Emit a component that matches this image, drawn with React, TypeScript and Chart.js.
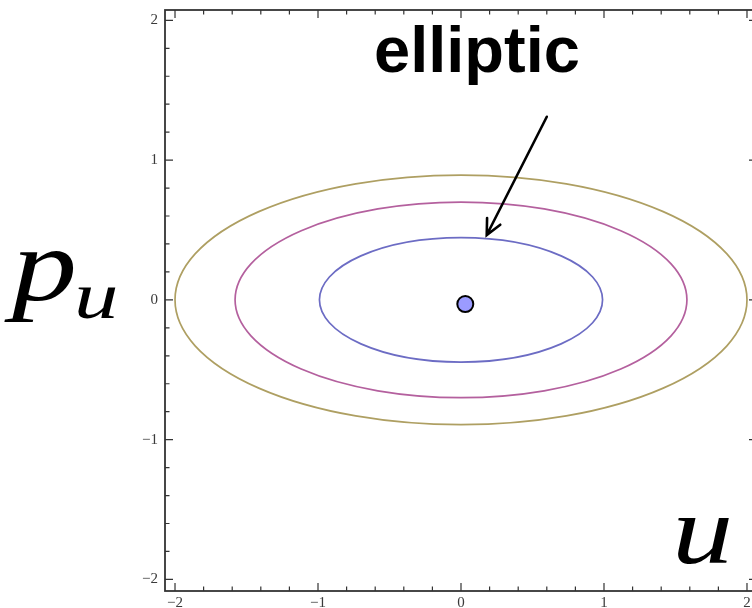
import { useEffect, useRef } from "react";
import { Chart, registerables } from "chart.js";

Chart.register(...registerables);

// Axis ticks (both axes share the same range)
const uTickValues = [-2, -1, 0, 1, 2];
const uTickLabels = ["−2", "−1", "0", "1", "2"];
const pTickValues = [-2, -1, 0, 1, 2];
const pTickLabels = ["−2", "−1", "0", "1", "2"];
const minorTicksPerUnit = 5;

// Closed orbits around the fixed point: semi-axes along u and p_u
const orbitSemiAxisU = [0.99, 1.58, 2.0];
const orbitSemiAxisP = [0.445, 0.7, 0.893];
const orbitColors = ["#6c6cc4", "#b4609e", "#ae9f62"];

// Elliptic fixed point
const fixedPointU = [0.03];
const fixedPointP = [-0.03];

const U_MIN = -2.07;
const U_MAX = 2.07;
const P_MIN = -2.083;
const P_MAX = 2.074;

// italic math glyph, widened to a rounder Computer-Modern-like shape
function mathGlyph(ctx: CanvasRenderingContext2D, text: string, size: number, x: number, y: number, stretch: number) {
  ctx.save();
  ctx.translate(x, y);
  ctx.scale(stretch, 1);
  ctx.font = `italic ${size}px "Liberation Serif"`;
  ctx.fillText(text, 0, 0);
  ctx.restore();
}

const phasePlanePlugin = {
  id: "phasePlane",
  beforeDatasetsDraw(chart: any) {
    const { ctx, chartArea: a, scales } = chart;
    const xs = scales.x;
    const ys = scales.y;
    ctx.save();
    ctx.beginPath();
    ctx.rect(a.left, a.top, a.right - a.left, a.bottom - a.top);
    ctx.clip();
    const cx = xs.getPixelForValue(0);
    const cy = ys.getPixelForValue(0);
    orbitSemiAxisU.forEach((au, i) => {
      const rx = Math.abs(xs.getPixelForValue(au) - cx);
      const ry = Math.abs(ys.getPixelForValue(orbitSemiAxisP[i]) - cy);
      ctx.beginPath();
      ctx.ellipse(cx, cy, rx, ry, 0, 0, Math.PI * 2);
      ctx.strokeStyle = orbitColors[i];
      ctx.lineWidth = 1.7;
      ctx.stroke();
    });
    ctx.restore();
  },
  afterDraw(chart: any) {
    const { ctx, chartArea: a, scales } = chart;
    const xs = scales.x;
    const ys = scales.y;
    ctx.save();

    // frame
    ctx.strokeStyle = "#333";
    ctx.lineWidth = 1.8;
    ctx.strokeRect(a.left, a.top, a.right - a.left, a.bottom - a.top);

    // ticks on all four sides, pointing inward
    ctx.strokeStyle = "#333";
    ctx.lineWidth = 1.2;
    const lo = Math.min(...uTickValues) * minorTicksPerUnit;
    const hi = Math.max(...uTickValues) * minorTicksPerUnit;
    for (let k = lo; k <= hi; k++) {
      const v = k / minorTicksPerUnit;
      const len = k % minorTicksPerUnit === 0 ? 8 : 4.5;
      const px = xs.getPixelForValue(v);
      const py = ys.getPixelForValue(v);
      ctx.beginPath();
      ctx.moveTo(px, a.bottom);
      ctx.lineTo(px, a.bottom - len);
      ctx.moveTo(px, a.top);
      ctx.lineTo(px, a.top + len);
      ctx.moveTo(a.left, py);
      ctx.lineTo(a.left + len, py);
      ctx.moveTo(a.right, py);
      ctx.lineTo(a.right - len, py);
      ctx.stroke();
    }

    // tick labels
    ctx.fillStyle = "#3a3a3a";
    ctx.font = '15px "Liberation Serif"';
    ctx.textAlign = "center";
    ctx.textBaseline = "alphabetic";
    uTickValues.forEach((v, i) => {
      ctx.fillText(uTickLabels[i], xs.getPixelForValue(v), a.bottom + 16);
    });
    ctx.textAlign = "right";
    ctx.textBaseline = "middle";
    pTickValues.forEach((v, i) => {
      ctx.fillText(pTickLabels[i], a.left - 7, ys.getPixelForValue(v));
    });

    // axis symbols
    ctx.fillStyle = "#000";
    ctx.textAlign = "left";
    ctx.textBaseline = "alphabetic";
    mathGlyph(ctx, "p", 104, 12, 300, 1.25);
    mathGlyph(ctx, "u", 66, 74, 318, 1.35);
    mathGlyph(ctx, "u", 98, 672, 563, 1.25);

    // annotation
    ctx.font = 'bold 65px "Liberation Sans"';
    ctx.fillText("elliptic", 374, 72);

    const x0 = xs.getPixelForValue(0.6);
    const y0 = ys.getPixelForValue(1.31);
    const x1 = xs.getPixelForValue(0.18);
    const y1 = ys.getPixelForValue(0.464);
    ctx.strokeStyle = "#000";
    ctx.lineWidth = 2.6;
    ctx.lineCap = "round";
    ctx.beginPath();
    ctx.moveTo(x0, y0);
    ctx.lineTo(x1, y1);
    const ang = Math.atan2(y1 - y0, x1 - x0);
    const head = 17;
    const spread = 0.45;
    ctx.moveTo(x1 - head * Math.cos(ang - spread), y1 - head * Math.sin(ang - spread));
    ctx.lineTo(x1, y1);
    ctx.lineTo(x1 - head * Math.cos(ang + spread), y1 - head * Math.sin(ang + spread));
    ctx.stroke();

    ctx.restore();
  },
};

export default function App() {
  const canvasRef = useRef<HTMLCanvasElement | null>(null);

  useEffect(() => {
    if (!canvasRef.current) return;
    const chart = new Chart(canvasRef.current, {
      type: "scatter",
      data: {
        datasets: [
          {
            data: fixedPointU.map((u, i) => ({ x: u, y: fixedPointP[i] })),
            pointRadius: 8,
            pointBackgroundColor: "#9b9bff",
            pointBorderColor: "#000",
            pointBorderWidth: 2,
            clip: false as any,
          },
        ],
      },
      options: {
        animation: false,
        responsive: false,
        devicePixelRatio: 1,
        layout: { padding: { left: 165, right: 13, top: 9, bottom: 17 } },
        plugins: { legend: { display: false }, tooltip: { enabled: false } },
        scales: {
          x: { type: "linear", min: U_MIN, max: U_MAX, display: false },
          y: { type: "linear", min: P_MIN, max: P_MAX, display: false },
        },
      },
      plugins: [phasePlanePlugin],
    });
    return () => chart.destroy();
  }, []);

  return (
    <div
      style={{
        position: "absolute",
        left: 0,
        top: 0,
        width: 752,
        height: 608,
        overflow: "hidden",
        background: "#fff",
      }}
    >
      <canvas ref={canvasRef} width={770} height={608} style={{ width: 770, height: 608 }} />
    </div>
  );
}
